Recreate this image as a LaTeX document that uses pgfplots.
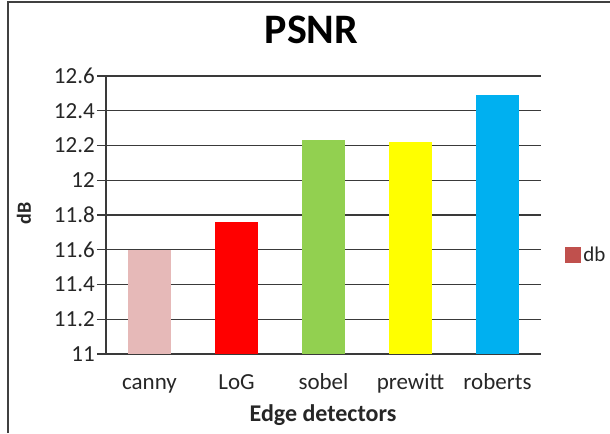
\documentclass[border=0pt]{standalone}
\usepackage{pgfplots}
\pgfplotsset{compat=1.18}
\usepackage{fontspec}
\setmainfont{Carlito}
\definecolor{cannyc}{HTML}{E6B9B8}
\definecolor{logc}{HTML}{FF0000}
\definecolor{sobelc}{HTML}{92D050}
\definecolor{prewittc}{HTML}{FFFF00}
\definecolor{robertsc}{HTML}{00B0F0}
\definecolor{dbred}{HTML}{C0504D}
\definecolor{gridc}{HTML}{3A3A3A}
\begin{document}
\begin{tikzpicture}
\useasboundingbox (0,0) rectangle (457.5pt,324.75pt);
\draw[black!75, line width=1.1pt] (6pt,0) -- (6pt,323.25pt) -- (457.5pt,323.25pt);
\begin{axis}[
  at={(79.5pt,59.25pt)}, anchor=south west,
  scale only axis, width=326.25pt, height=208.5pt,
  ybar, bar width=32.25pt, bar shift=0pt,
  xmin=-0.5, xmax=4.5, ymin=11, ymax=12.6,
  xtick={0,1,2,3,4},
  xticklabels={canny,LoG,sobel,prewitt,roberts},
  ytick={11,11.2,...,12.61},
  yticklabels={11,11.2,11.4,11.6,11.8,12,12.2,12.4,12.6},
  axis x line*=bottom, axis y line*=left,
  axis line style={gridc, line width=1.1pt},
  ymajorgrids, major grid style={gridc, line width=1.1pt},
  xtick style={draw=none},
  ytick style={gridc, line width=1.1pt},
  tick align=outside, major tick length=6.75pt,
  /pgf/number format/assume math mode=true,
  tick label style={font=\fontsize{17.25pt}{20pt}\selectfont, text=black!85},
  xticklabel style={anchor=base, yshift=-19.5pt},
  yticklabel style={anchor=east, inner sep=0pt, xshift=-1.5pt},
  title={PSNR},
  every axis title/.style={at={(axis description cs:0.4724,1.1187)}, anchor=base, font=\fontsize{31.5pt}{34pt}\selectfont\bfseries, inner sep=0pt},
  xlabel={Edge detectors},
  xlabel style={at={(axis description cs:0.4989,-0.241)}, anchor=base, font=\fontsize{18pt}{21pt}\selectfont\bfseries, inner sep=0pt, text=black!85},
  ylabel={dB},
  ylabel style={at={(axis description cs:-0.1885,0.5054)}, anchor=center, font=\fontsize{15pt}{17pt}\selectfont\bfseries, inner sep=0pt, text=black!85},
  legend style={at={(axis description cs:1.055,0.356)}, anchor=west, draw=none, fill=none, inner sep=0pt, font=\fontsize{15.75pt}{18pt}\selectfont, text=black!85, /tikz/every even column/.style={column sep=0pt}},
  legend image code/.code={\fill[dbred] (0pt,-5.6pt) rectangle (11.25pt,5.6pt);},
  clip=false,
]
\addplot[fill=cannyc, draw=none, forget plot] coordinates {(0,11.60)};
\addplot[fill=logc, draw=none, forget plot] coordinates {(1,11.76)};
\addplot[fill=sobelc, draw=none, forget plot] coordinates {(2,12.23)};
\addplot[fill=prewittc, draw=none, forget plot] coordinates {(3,12.22)};
\addplot[fill=robertsc, draw=none, forget plot] coordinates {(4,12.49)};
\addlegendimage{legend image code/.code={\fill[dbred] (0pt,-5.6pt) rectangle (11.25pt,5.6pt);}}
\addlegendentry{db}
\end{axis}
\end{tikzpicture}
\end{document}
